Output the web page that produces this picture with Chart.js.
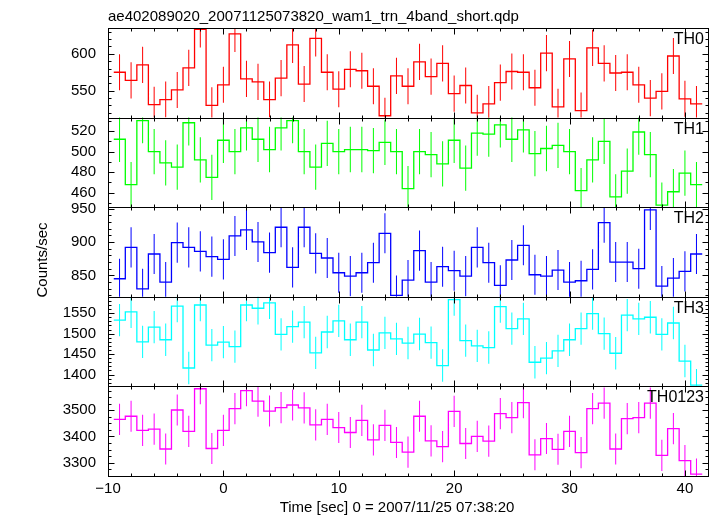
<!DOCTYPE html>
<html lang="en">
<head>
  <meta charset="UTF-8">
  <title>ae402089020 WAM light curve</title>
  <style>
    body { margin: 0; padding: 0; background: #fff; }
    #chart { display: block; }
  </style>
</head>
<body>
  <canvas id="chart" width="717" height="516"></canvas>

  <script src="https://cdn.jsdelivr.net/npm/chart.js@4"></script>
  <script>
    // ==== data (counts/sec, 1 s bins) ====
    const TIME = [-9, -8, -7, -6, -5, -4, -3, -2, -1, 0, 1, 2, 3, 4, 5, 6, 7, 8, 9, 10,
      11, 12, 13, 14, 15, 16, 17, 18, 19, 20, 21, 22, 23, 24, 25, 26, 27, 28, 29, 30,
      31, 32, 33, 34, 35, 36, 37, 38, 39, 40, 41];

    const TH0 = [575, 564, 585, 531, 538, 551, 581, 633, 530, 558, 627, 566, 562, 538, 567, 612, 559, 621, 575, 552,
      579, 577, 556, 516, 570, 556, 589, 569, 587, 546, 557, 520, 532, 561, 576, 575, 554, 601, 528, 593,
      523, 608, 587, 574, 575, 558, 540, 549, 597, 539, 532];
    const TH1 = [512, 468, 530, 500, 489, 485, 528, 492, 475, 511, 500, 523, 512, 502, 523, 530, 500, 485, 508, 500,
      502, 502, 501, 509, 500, 464, 500, 497, 488, 511, 484, 518, 517, 526, 512, 521, 498, 503, 506, 500,
      462, 492, 510, 456, 481, 519, 497, 448, 461, 479, 468];
    const TH2 = [845, 892, 830, 882, 840, 899, 892, 886, 878, 874, 909, 918, 900, 884, 922, 862, 922, 883, 876, 854,
      849, 854, 869, 913, 820, 843, 887, 840, 863, 857, 849, 892, 869, 835, 873, 895, 851, 849, 858, 840,
      842, 859, 929, 870, 870, 860, 948, 834, 846, 856, 882];
    const TH3 = [1533, 1553, 1480, 1516, 1485, 1567, 1416, 1570, 1472, 1479, 1468, 1570, 1562, 1575, 1498, 1517, 1528, 1453, 1504, 1531,
      1485, 1528, 1460, 1502, 1487, 1477, 1499, 1478, 1422, 1583, 1483, 1470, 1466, 1566, 1512, 1536, 1430, 1440, 1458, 1485,
      1512, 1549, 1500, 1452, 1545, 1536, 1540, 1498, 1526, 1433, 1374];
    const TH0123 = [3465, 3477, 3423, 3428, 3352, 3501, 3419, 3582, 3354, 3423, 3506, 3575, 3535, 3497, 3510, 3520, 3509, 3444, 3465, 3434,
      3415, 3461, 3387, 3442, 3377, 3340, 3477, 3383, 3361, 3496, 3373, 3400, 3382, 3487, 3472, 3529, 3330, 3392, 3351, 3419,
      3338, 3506, 3527, 3352, 3468, 3472, 3527, 3328, 3430, 3308, 3256];

    const SERIES = [TH0, TH1, TH2, TH3, TH0123];
    const PANELS = ['TH0', 'TH1', 'TH2', 'TH3', 'TH0123'];
    const ERRORS = [24.5, 22, 30, 39.5, 59.5];   // 1-sigma half length of the error bars
    const COLORS = ['#ff0000', '#00ff00', '#0000ff', '#00ffff', '#ff00ff'];

    // axis ranges
    const Y_MIN = [513.5, 446, 818, 1371, 3249];
    const Y_MAX = [635, 533, 952, 1590, 3591];
    const Y_MAJOR = [50, 20, 50, 50, 100];
    const Y_MINOR = [10, 10, 10, 10, 25];
    const X_MIN = -10, X_MAX = 42, X_MAJOR = 10, X_MINOR = 2;
    const BIN = 1;

    const FONT = "'Liberation Sans', Helvetica, Arial, sans-serif";

    // ==== datasets ====
    const datasets = [];
    const scales = {
      x: {
        type: 'linear',
        min: X_MIN,
        max: X_MAX,
        offset: false,
        grid: { display: false, drawTicks: false, offset: false },
        border: { display: false },
        ticks: {
          stepSize: X_MAJOR,
          includeBounds: false,
          autoSkip: false,
          maxRotation: 0,
          padding: 4,
          color: '#000',
          font: { family: FONT, size: 15 },
          callback: v => (v < 0 ? '\u2212' + Math.abs(v) : String(v))
        },
        afterFit: s => { s.height = 40; }
      }
    };

    SERIES.forEach((vals, i) => {
      const id = 'y' + i;
      // step histogram: left edges of each bin + closing edge
      const steps = TIME.map((t, k) => ({ x: t - BIN / 2, y: vals[k] }));
      steps.push({ x: TIME[TIME.length - 1] + BIN / 2, y: vals[vals.length - 1] });

      datasets.push({
        type: 'line',
        data: steps,
        yAxisID: id,
        stepped: true,
        borderColor: COLORS[i],
        borderWidth: 1.3,
        pointRadius: 0,
        fill: false,
        clip: 0
      });
      datasets.push({
        type: 'bar',
        data: TIME.map((t, k) => ({ x: t, y: [vals[k] - ERRORS[i], vals[k] + ERRORS[i]] })),
        yAxisID: id,
        backgroundColor: COLORS[i],
        borderWidth: 0,
        barThickness: 1,
        inflateAmount: 0,
        grouped: false,
        clip: 0
      });

      scales[id] = {
        type: 'linear',
        position: 'left',
        stack: 'panels',
        stackWeight: 1,
        weight: SERIES.length - i,
        min: Y_MIN[i],
        max: Y_MAX[i],
        grid: { display: false, drawTicks: false },
        border: { display: false },
        ticks: {
          stepSize: Y_MAJOR[i],
          includeBounds: false,
          autoSkip: false,
          padding: 12,
          color: '#000',
          font: { family: FONT, size: 15 },
          callback: v => String(v)
        },
        afterFit: s => { s.width = 108; }
      };
    });

    // frames, inward tick marks and the free text
    const framePlugin = {
      id: 'qdpFrame',
      afterDatasetsDraw(chart) {
        const ctx = chart.ctx;
        const x = chart.scales.x;
        const { left, right } = chart.chartArea;
        ctx.save();
        ctx.strokeStyle = '#000';
        ctx.lineWidth = 1;
        PANELS.forEach((name, i) => {
          const y = chart.scales['y' + i];
          const top = Math.round(y.top) + 0.5, bot = Math.round(y.bottom) + 0.5;
          const l = Math.round(left) + 0.5, r = Math.round(right) + 0.5;
          ctx.strokeRect(l, top, r - l, bot - top);
          ctx.beginPath();
          for (let v = X_MIN; v <= X_MAX; v += X_MINOR) {
            const px = Math.round(x.getPixelForValue(v)) + 0.5;
            const len = v % X_MAJOR === 0 ? 6 : 3;
            ctx.moveTo(px, top); ctx.lineTo(px, top + len);
            ctx.moveTo(px, bot); ctx.lineTo(px, bot - len);
          }
          const step = Y_MINOR[i];
          for (let v = Math.ceil(Y_MIN[i] / step) * step; v <= Y_MAX[i]; v += step) {
            const py = Math.round(y.getPixelForValue(v)) + 0.5;
            const len = v % Y_MAJOR[i] === 0 ? 6 : 3;
            ctx.moveTo(l, py); ctx.lineTo(l + len, py);
            ctx.moveTo(r, py); ctx.lineTo(r - len, py);
          }
          ctx.stroke();

          ctx.fillStyle = '#000';
          ctx.font = '16px ' + FONT;
          ctx.textAlign = 'right';
          ctx.textBaseline = 'alphabetic';
          ctx.fillText(name, right - 4, y.top + 16);
        });

        ctx.font = '15px ' + FONT;
        ctx.textAlign = 'left';
        ctx.fillText('ae402089020_20071125073820_wam1_trn_4band_short.qdp', left, 20.5);
        ctx.textAlign = 'center';
        ctx.fillText('Time [sec] 0 = 2007/11/25 07:38:20', 397, 512);
        ctx.translate(47, 260);
        ctx.rotate(-Math.PI / 2);
        ctx.fillText('Counts/sec', 0, 0);
        ctx.restore();
      }
    };

    new Chart(document.getElementById('chart'), {
      data: { datasets },
      options: {
        responsive: false,
        animation: false,
        layout: { padding: { left: 0, right: 9, top: 28, bottom: 0 } },
        plugins: {
          legend: { display: false },
          tooltip: { enabled: false },
          title: { display: false }
        },
        scales
      },
      plugins: [framePlugin]
    });
  </script>
</body>
</html>
